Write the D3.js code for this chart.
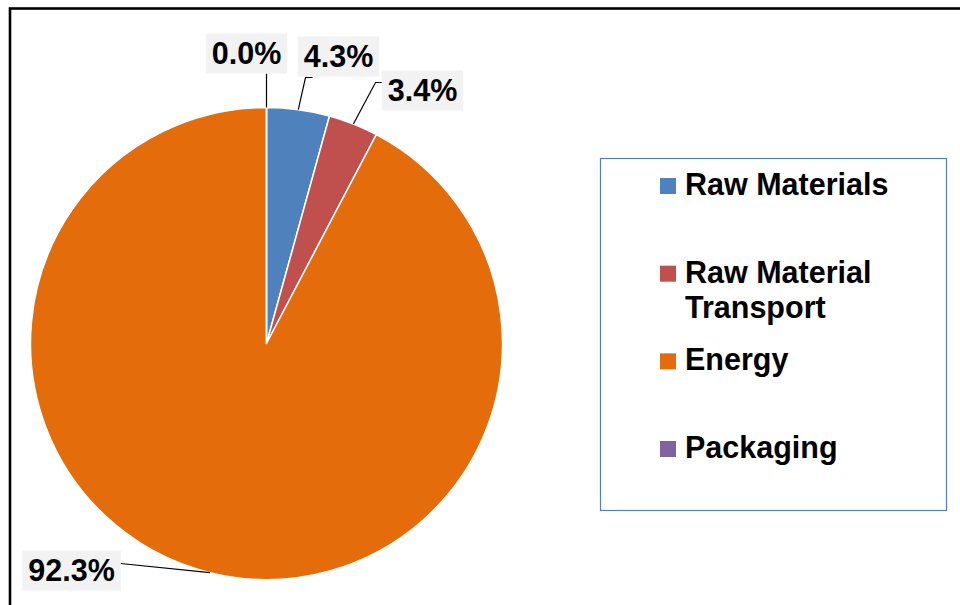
<!DOCTYPE html>
<html>
<head>
<meta charset="utf-8">
<script src="https://cdn.jsdelivr.net/npm/d3@7"></script>
<style>
  html, body { margin: 0; padding: 0; background: #fff; }
  svg { display: block; font-family: "Liberation Sans", Arial, sans-serif; }
</style>
</head>
<body>
<svg id="chart" width="960" height="605"></svg>
<script>
// ---- data ----
const categories = ["Raw Materials", "Raw Material Transport", "Energy", "Packaging"];
const values = [4.3, 3.4, 92.3, 0.0];
const colors = ["#4F81BD", "#C0504D", "#E46C0A", "#8064A2"];
const valueLabels = ["4.3%", "3.4%", "92.3%", "0.0%"];
const legendLines = [["Raw Materials"], ["Raw Material", "Transport"], ["Energy"], ["Packaging"]];

// ---- layout ----
const W = 960, H = 605;
const cx = 266.5, cy = 343.5, R = 236;
// label box centres relative to pie centre, and leader elbow points
const labelLayout = [
  { bx: 72,   by: -287, elbow: [39, -266], attach: [46, -266] },
  { bx: 156,  by: -253, elbow: [109, -261], attach: [116, -261] },
  { bx: -195, by: 227,  elbow: null, attach: [-146, 220] },
  { bx: -20,  by: -290, elbow: null, attach: [0, -270] }
];

const svg = d3.select("#chart");

// outer frame
svg.append("rect")
  .attr("x", 10).attr("y", 8.5)
  .attr("width", W + 20).attr("height", H + 20)
  .attr("fill", "none").attr("stroke", "#000").attr("stroke-width", 2.6);

const pie = d3.pie().sort(null).value(d => d).startAngle(0).endAngle(2 * Math.PI);
const arcs = pie(values);
const arc = d3.arc().innerRadius(0).outerRadius(R);

const g = svg.append("g").attr("transform", `translate(${cx},${cy})`);

g.selectAll("path.slice")
  .data(arcs)
  .join("path")
  .attr("class", "slice")
  .attr("d", arc)
  .attr("fill", (d, i) => colors[i])
  .attr("stroke", "#fff")
  .attr("stroke-width", 1.5)
  .attr("stroke-linejoin", "round");

// leader lines + labels
arcs.forEach((d, i) => {
  const mid = (d.startAngle + d.endAngle) / 2;
  const sx = R * Math.sin(mid), sy = -R * Math.cos(mid);
  const L = labelLayout[i];
  const pts = [[sx, sy]];
  if (L.elbow) pts.push(L.elbow);
  pts.push(L.attach);
  g.append("path")
    .attr("d", d3.line()(pts))
    .attr("fill", "none")
    .attr("stroke", "#000")
    .attr("stroke-width", 1.2);

  const lg = g.append("g").attr("transform", `translate(${L.bx},${L.by})`);
  const t = lg.append("text")
    .attr("text-anchor", "middle")
    .attr("dy", "0.36em")
    .attr("font-size", 30.5)
    .attr("font-weight", "bold")
    .attr("fill", "#000")
    .text(valueLabels[i]);
  const bb = t.node().getBBox();
  lg.insert("rect", "text")
    .attr("x", bb.x - 6).attr("y", -20)
    .attr("width", bb.width + 12).attr("height", 40)
    .attr("fill", "#F2F2F2");
});

// legend
const legend = svg.append("g");
legend.append("rect")
  .attr("x", 600.5).attr("y", 158.5)
  .attr("width", 346).attr("height", 352)
  .attr("fill", "#fff")
  .attr("stroke", "#4F81BD")
  .attr("stroke-width", 1.2);

const legendY = d3.scalePoint().domain(d3.range(categories.length)).range([195, 458]);
categories.forEach((c, i) => {
  const y = legendY(i);
  legend.append("rect")
    .attr("x", 660).attr("y", y - 17)
    .attr("width", 16).attr("height", 16)
    .attr("fill", colors[i]);
  const t = legend.append("text")
    .attr("x", 685).attr("y", i === 1 ? 283 : y)
    .attr("font-size", 30.5)
    .attr("font-weight", "bold")
    .attr("fill", "#000");
  legendLines[i].forEach((ln, j) => {
    t.append("tspan").attr("x", 685).attr("dy", j === 0 ? 0 : 35).text(ln);
  });
});
</script>
</body>
</html>
